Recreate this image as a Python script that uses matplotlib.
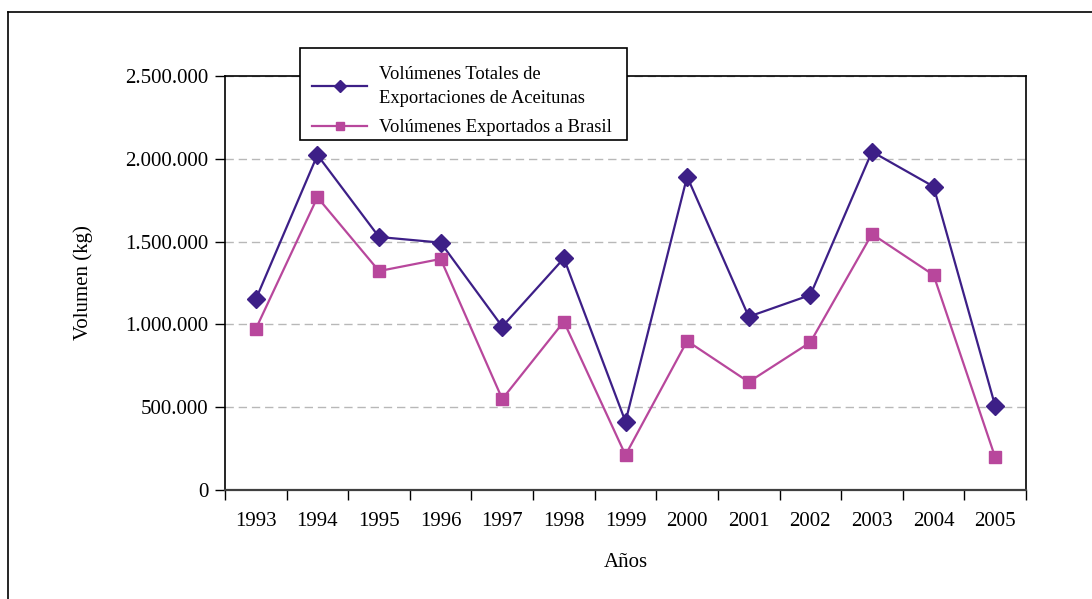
import matplotlib
matplotlib.use("Agg")
import matplotlib.pyplot as plt
from matplotlib.lines import Line2D
from matplotlib.patches import Rectangle
from matplotlib.ticker import FuncFormatter, FixedLocator
import numpy as np

years = ["1993", "1994", "1995", "1996", "1997", "1998", "1999",
         "2000", "2001", "2002", "2003", "2004", "2005"]
total = [1151000, 2024000, 1528000, 1494000, 986000, 1399000, 411000,
         1893000, 1046000, 1177000, 2044000, 1833000, 506000]
brasil = [972000, 1768000, 1322000, 1395000, 548000, 1016000, 209000,
          899000, 651000, 891000, 1546000, 1298000, 195000]
label_total = "Volúmenes Totales de\nExportaciones de Aceitunas"
label_brasil = "Volúmenes Exportados a Brasil"

c_total = "#3d1f87"
c_brasil = "#b8479c"

plt.rcParams['font.family'] = ['Liberation Serif', 'DejaVu Serif']

W, H = 1092, 599
fig = plt.figure(figsize=(W / 100, H / 100), dpi=100)
ax = fig.add_axes([225 / W, 1 - 489.6 / H, (1026 - 225) / W, (489.6 - 76.3) / H])

x = np.arange(len(years))
ax.plot(x, total, color=c_total, lw=1.6, marker="D", ms=9.5, zorder=3)
ax.plot(x, brasil, color=c_brasil, lw=1.6, marker="s", ms=9, zorder=3)

ax.set_xlim(-0.5, len(years) - 0.5)
ax.set_ylim(0, 2500000)
ax.yaxis.set_major_locator(FixedLocator(np.arange(0, 2500001, 500000)))
ax.yaxis.set_major_formatter(FuncFormatter(lambda v, p: f"{int(v):,}".replace(",", ".")))
ax.set_xticks(np.arange(-0.5, len(years), 1.0))
ax.set_xticklabels([])
ax.set_xticks(x, minor=True)
ax.set_xticklabels(years, minor=True)
ax.tick_params(axis="x", which="major", length=7, width=1, direction="out")
ax.tick_params(axis="x", which="minor", length=0, pad=16, labelsize=15)
ax.tick_params(axis="y", length=7, width=1, direction="out", labelsize=15, pad=5)

ax.yaxis.grid(True, color="#b8b8b8", linestyle=(0, (6, 3.5)), lw=1)
ax.set_axisbelow(True)
for s in ["left", "top", "right"]:
    ax.spines[s].set_color("black")
    ax.spines[s].set_linewidth(1.2)
ax.spines["bottom"].set_color("#404040")
ax.spines["bottom"].set_linewidth(1.6)

ax.set_ylabel("Volumen (kg)", fontsize=15, labelpad=23)
ax.set_xlabel("Años", fontsize=15, labelpad=16)

# legend box (white, black border)
fig.add_artist(Rectangle((300 / W, 1 - 140 / H), (627 - 300) / W, (140 - 48) / H,
                         transform=fig.transFigure, facecolor="white",
                         edgecolor="black", lw=1.2, zorder=4))
handles = [
    Line2D([], [], color=c_total, lw=1.6, marker="D", ms=6),
    Line2D([], [], color=c_brasil, lw=1.6, marker="s", ms=6),
]
leg = fig.legend(handles, [label_total, label_brasil], loc="upper left",
                 bbox_to_anchor=(298 / W, 1 - 52 / H), fontsize=13.3,
                 frameon=False, handlelength=3.0, handletextpad=0.65,
                 borderpad=0.75, labelspacing=0.67, borderaxespad=0)
for t in leg.get_texts():
    t.set_linespacing(1.55)
leg.set_zorder(5)

# outer chart frame (clipped at right and bottom)
fig.add_artist(Line2D([8 / W, 1.0], [1 - 12 / H, 1 - 12 / H], color="black", lw=1.2,
                      transform=fig.transFigure))
fig.add_artist(Line2D([8 / W, 8 / W], [1 - 12 / H, 0.0], color="black", lw=1.2,
                      transform=fig.transFigure))

fig.savefig("out.png", dpi=100)
